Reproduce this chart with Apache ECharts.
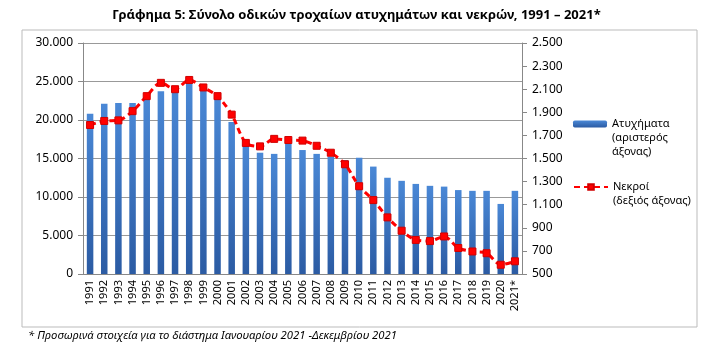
<!DOCTYPE html>
<html>
<head>
<meta charset="utf-8">
<script src="https://cdn.jsdelivr.net/npm/echarts@6/dist/echarts.min.js"></script>
<style>
  html, body { margin: 0; padding: 0; background: #fff; }
  #main { width: 713px; height: 352px; }
</style>
</head>
<body>
<div id="main"></div>
<script>
const years = ["1991", "1992", "1993", "1994", "1995", "1996", "1997", "1998", "1999", "2000",
  "2001", "2002", "2003", "2004", "2005", "2006", "2007", "2008", "2009", "2010",
  "2011", "2012", "2013", "2014", "2015", "2016", "2017", "2018", "2019", "2020", "2021*"];

// Ατυχήματα (αριστερός άξονας)
const accidents = [20800, 22100, 22200, 22200, 23000, 23750, 24100, 25200, 24300, 22950,
  19750, 16850, 15750, 15600, 16950, 16100, 15600, 15250, 14800, 15100,
  13950, 12500, 12100, 11700, 11450, 11350, 10900, 10800, 10800, 9100, 10800];

// Νεκροί (δεξιός άξονας)
const deaths = [1790, 1825, 1830, 1910, 2040, 2155, 2100, 2180, 2115, 2040,
  1880, 1635, 1605, 1670, 1660, 1655, 1610, 1550, 1450, 1260,
  1140, 990, 875, 795, 785, 825, 725, 695, 680, 580, 610];

const font = "'Noto Sans', sans-serif";
const fmt = v => String(v).replace(/\B(?=(\d{3})+(?!\d))/g, ".");

const chart = echarts.init(document.getElementById("main"));

// empty leading lines keep the legend icon level with the first text line
const option = {
  animation: false,
  title: {
    text: "Γράφημα 5: Σύνολο οδικών τροχαίων ατυχημάτων και νεκρών, 1991 – 2021*",
    left: "center",
    top: 4,
    textStyle: { fontFamily: font, fontSize: 13, fontWeight: "bold", color: "#000" }
  },
  grid: { left: 83, right: 191, top: 43, bottom: 78 },
  legend: [
    {
      data: ["Ατυχήματα"],
      left: 573, top: 89,
      padding: 0,
      itemWidth: 34, itemHeight: 7,
      formatter: () => "\n\nΑτυχήματα\n(αριστερός\nάξονας)",
      textStyle: { fontFamily: font, fontSize: 11, color: "#000", lineHeight: 14 }
    },
    {
      data: ["Νεκροί"],
      left: 573, top: 166,
      padding: 0,
      itemWidth: 34, itemHeight: 7,
      formatter: () => "\nΝεκροί\n(δεξιός άξονας)",
      textStyle: { fontFamily: font, fontSize: 11, color: "#000", lineHeight: 14 }
    }
  ],
  xAxis: {
    type: "category",
    data: years,
    axisLine: { lineStyle: { color: "#888" } },
    axisTick: { interval: 0, length: 5, lineStyle: { color: "#888" } },
    axisLabel: { interval: 0, rotate: 90, fontFamily: font, fontSize: 11, color: "#000", margin: 6 }
  },
  yAxis: [
    {
      type: "value",
      min: 0, max: 30000, interval: 5000,
      axisLine: { show: true, lineStyle: { color: "#888" } },
      axisTick: { show: true, length: 5, lineStyle: { color: "#888" } },
      axisLabel: { fontFamily: font, fontSize: 12, color: "#000", margin: 10, formatter: fmt },
      splitLine: { lineStyle: { color: "#999" } }
    },
    {
      type: "value",
      min: 500, max: 2500, interval: 200,
      axisLine: { show: true, lineStyle: { color: "#888" } },
      axisTick: { show: true, length: 5, lineStyle: { color: "#888" } },
      axisLabel: { fontFamily: font, fontSize: 12, color: "#000", margin: 10, formatter: fmt },
      splitLine: { show: false }
    }
  ],
  series: [
    {
      name: "Ατυχήματα",
      type: "bar",
      data: accidents,
      barWidth: "46%",
      itemStyle: {
        color: new echarts.graphic.LinearGradient(0, 0, 0, 1, [
          { offset: 0, color: "#4a88d6" },
          { offset: 1, color: "#2b5ba3" }
        ])
      }
    },
    {
      name: "Νεκροί",
      type: "line",
      yAxisIndex: 1,
      data: deaths,
      smooth: 0.3,
      symbol: "rect",
      symbolSize: 7,
      lineStyle: { color: "#ff0000", width: 3, type: [6, 4] },
      itemStyle: { color: "#ff0000", borderColor: "#d00000", borderWidth: 1 }
    }
  ],
  graphic: [
    {
      type: "rect",
      shape: { x: 22, y: 30, width: 675, height: 297 },
      style: { fill: "none", stroke: "#bbb", lineWidth: 1 },
      silent: true
    },
    {
      type: "text",
      left: 28, top: 330,
      style: {
        text: "* Προσωρινά στοιχεία για το διάστημα Ιανουαρίου 2021 -Δεκεμβρίου 2021",
        font: "italic 11.3px 'Noto Sans', sans-serif",
        fill: "#000"
      }
    }
  ]
};

option && chart.setOption(option);
</script>
</body>
</html>
